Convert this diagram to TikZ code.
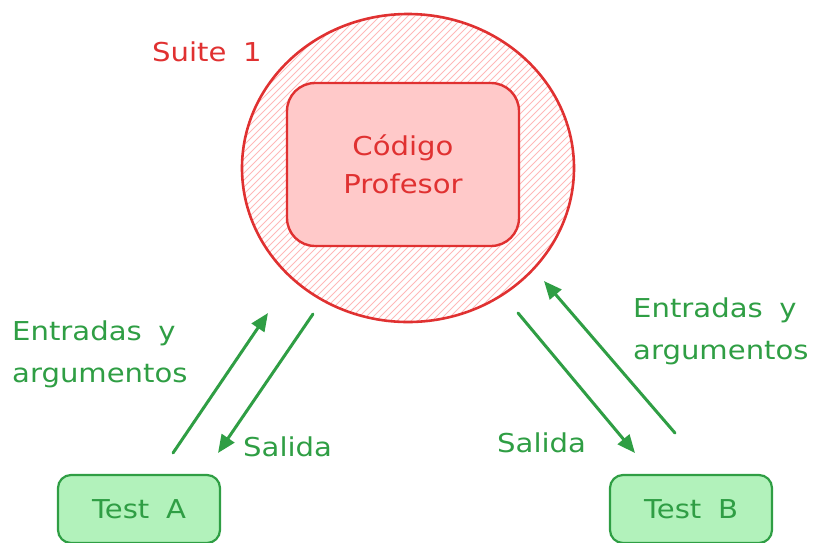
\documentclass[tikz,border=0pt]{standalone}
\usepackage{fontspec}
\setmainfont[FakeStretch=1.12, WordSpace=1.8]{DejaVu Sans}
\usetikzlibrary{arrows.meta,shapes.geometric}
\definecolor{sred}{HTML}{E03131}
\definecolor{spink}{HTML}{FFC9C9}
\definecolor{shatch}{HTML}{FFB8B8}
\definecolor{sgreen}{HTML}{2F9E44}
\definecolor{slgreen}{HTML}{B2F2BB}
\begin{document}
\begin{tikzpicture}[x=1pt,y=-1pt,
  lbl/.style={font=\fontsize{26}{30}\selectfont, inner sep=0pt},
  redtxt/.style={lbl, text=sred},
  greentxt/.style={lbl, text=sgreen},
  flow/.style={draw=sgreen, line width=3pt, line cap=round,
    -{Triangle[length=18pt,width=15pt]}},
  testbox/.style={draw=sgreen, fill=slgreen, line width=2.2pt,
    rounded corners=13pt, minimum width=162pt, minimum height=68pt,
    greentxt},
  hatchline/.style={draw=shatch, line width=1pt}]
\useasboundingbox (0,0) rectangle (815,542);

% hatched suite circle
\begin{scope}
  \clip (408,168) ellipse [x radius=166, y radius=154];
  \foreach \i in {-60,-53,...,580}
    \draw[hatchline] (\i,330) -- (\i+330,0);
\end{scope}
\node[ellipse, draw=sred, line width=2.6pt, inner sep=0pt,
  minimum width=332pt, minimum height=308pt] (suite) at (408,168) {};

% professor code block
\node[draw=sred, fill=spink, line width=2.4pt, rounded corners=28pt,
  minimum width=232pt, minimum height=163pt, redtxt,
  align=center, font=\fontsize{26}{38}\selectfont] (prof) at (403,164.5)
  {Código\\Profesor};

\node[redtxt, anchor=west] (suitelbl) at (152,52) {Suite 1};

% tests
\node[testbox] (testA) at (139,509) {Test A};
\node[testbox] (testB) at (691,509) {Test B};

% arrow end points
\coordinate (a1) at (173,453); \coordinate (a2) at (268,313);
\coordinate (b1) at (313,314); \coordinate (b2) at (218,453);
\coordinate (c1) at (518,313); \coordinate (c2) at (635,453);
\coordinate (d1) at (675,433); \coordinate (d2) at (544,281);

\draw[flow] (a1) -- (a2);
\draw[flow] (b1) -- (b2);
\draw[flow] (c1) -- (c2);
\draw[flow] (d1) -- (d2);

% labels
\node[greentxt, anchor=west, align=left, font=\fontsize{26}{42}\selectfont]
  (inA) at (12,354) {Entradas y\\argumentos};
\node[greentxt, anchor=west, align=left, font=\fontsize{26}{42}\selectfont]
  (inB) at (633,331) {Entradas y\\argumentos};
\node[greentxt, anchor=west] (outA) at (243,447) {Salida};
\node[greentxt, anchor=west] (outB) at (497,443) {Salida};
\end{tikzpicture}
\end{document}
